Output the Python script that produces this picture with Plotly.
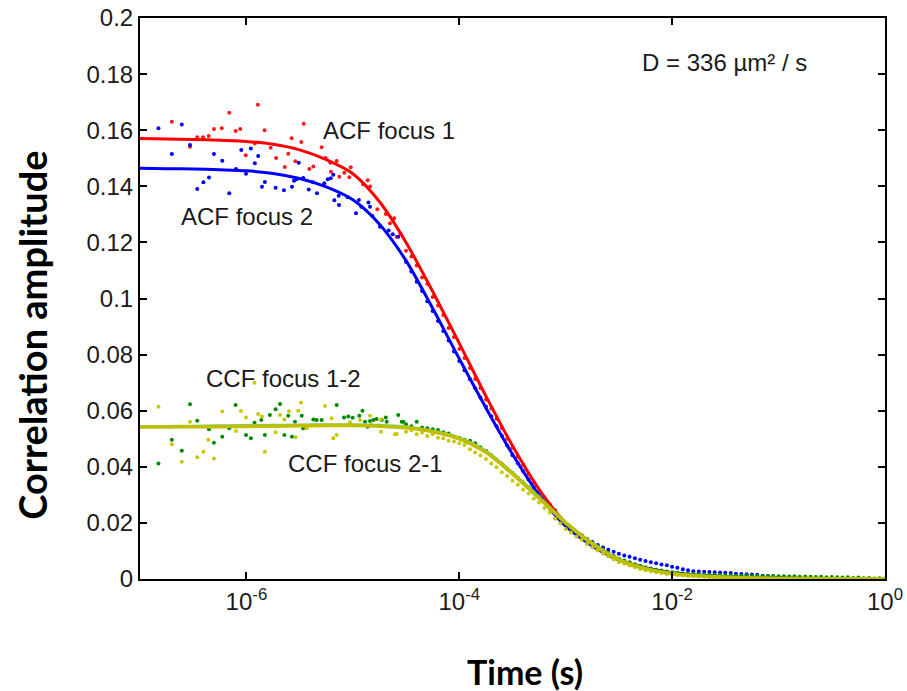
import plotly.graph_objects as go

# ---------------- data ----------------
# early (noisy) part of each correlation curve: lag time (s), amplitude
acf1_t_early = [1.99e-7, 2.95e-7, 3.45e-7, 3.91e-7, 4.42e-7, 4.95e-7, 5.86e-7, 6.90e-7, 7.92e-7, 8.75e-7,
                9.84e-7, 1.20e-6, 1.28e-6, 1.48e-6, 1.69e-6, 1.90e-6, 2.29e-6, 2.47e-6, 2.66e-6, 2.88e-6,
                3.28e-6, 3.45e-6, 3.90e-6, 4.25e-6, 5.09e-6, 5.56e-6, 6.14e-6, 6.23e-6, 7.05e-6, 7.46e-6,
                8.31e-6, 9.27e-6, 9.55e-6, 1.25e-5, 1.38e-5, 1.45e-5, 1.70e-5, 2.04e-5, 2.23e-5, 2.44e-5,
                2.58e-5, 2.81e-5]
acf1_g_early = [0.1630, 0.1541, 0.1575, 0.1575, 0.1579, 0.1604, 0.1607, 0.1662, 0.1597, 0.1604,
                0.1511, 0.1553, 0.1691, 0.1600, 0.1537, 0.1501, 0.1469, 0.1516, 0.1571, 0.1489,
                0.1558, 0.1623, 0.1462, 0.1471, 0.1539, 0.1501, 0.1484, 0.1452, 0.1490, 0.1434,
                0.1448, 0.1432, 0.1468, 0.1407, 0.1422, 0.1399, 0.1318, 0.1301, 0.1268, 0.1286,
                0.1220, 0.1230]

acf2_t_early = [1.49e-7, 1.99e-7, 2.47e-7, 2.95e-7, 3.45e-7, 3.94e-7, 4.45e-7, 4.95e-7, 5.93e-7, 6.90e-7,
                7.98e-7, 8.95e-7, 9.91e-7, 1.10e-6, 1.20e-6, 1.29e-6, 1.40e-6, 1.49e-6, 1.88e-6, 2.25e-6,
                2.68e-6, 2.80e-6, 2.97e-6, 3.10e-6, 3.42e-6, 3.85e-6, 4.22e-6, 4.60e-6, 5.39e-6, 5.81e-6,
                6.19e-6, 6.55e-6, 6.70e-6, 7.36e-6, 7.41e-6, 8.95e-6, 1.07e-5, 1.14e-5, 1.20e-5, 1.40e-5,
                1.45e-5, 1.52e-5, 1.80e-5, 2.17e-5, 2.37e-5, 2.67e-5]
acf2_g_early = [0.1607, 0.1515, 0.1620, 0.1547, 0.1390, 0.1414, 0.1431, 0.1515, 0.1491, 0.1375,
                0.1462, 0.1529, 0.1445, 0.1535, 0.1482, 0.1508, 0.1398, 0.1415, 0.1395, 0.1386,
                0.1398, 0.1420, 0.1425, 0.1484, 0.1430, 0.1389, 0.1414, 0.1375, 0.1411, 0.1425,
                0.1429, 0.1441, 0.1350, 0.1366, 0.1333, 0.1361, 0.1304, 0.1351, 0.1327, 0.1342,
                0.1327, 0.1295, 0.1256, 0.1242, 0.1229, 0.1220]

ccf12_t_early = [1.49e-7, 1.99e-7, 2.47e-7, 2.95e-7, 3.45e-7, 4.45e-7, 4.95e-7, 5.93e-7, 6.90e-7, 7.92e-7,
                 9.91e-7, 1.10e-6, 1.19e-6, 1.38e-6, 1.49e-6, 1.66e-6, 1.88e-6, 2.07e-6, 2.27e-6, 2.47e-6,
                 2.68e-6, 2.86e-6, 3.31e-6, 3.42e-6, 4.25e-6, 4.57e-6, 5.09e-6, 7.05e-6, 8.26e-6, 9.06e-6,
                 9.95e-6, 1.15e-5, 1.23e-5, 1.30e-5, 1.37e-5, 1.45e-5, 1.56e-5, 1.67e-5, 1.87e-5, 2.04e-5,
                 2.08e-5, 2.67e-5, 2.88e-5, 2.98e-5]
ccf12_g_early = [0.0412, 0.0496, 0.0457, 0.0623, 0.0564, 0.0534, 0.0486, 0.0507, 0.0537, 0.0620,
                 0.0513, 0.0502, 0.0557, 0.0567, 0.0513, 0.0585, 0.0605, 0.0624, 0.0513, 0.0582,
                 0.0507, 0.0561, 0.0582, 0.0537, 0.0569, 0.0567, 0.0567, 0.0620, 0.0576, 0.0579,
                 0.0575, 0.0582, 0.0600, 0.0561, 0.0543, 0.0563, 0.0567, 0.0570, 0.0567, 0.0576,
                 0.0561, 0.0585, 0.0561, 0.0561]

ccf21_t_early = [1.49e-7, 1.99e-7, 2.47e-7, 2.95e-7, 3.45e-7, 3.94e-7, 4.39e-7, 4.95e-7, 5.93e-7, 7.98e-7,
                 8.89e-7, 9.91e-7, 1.19e-6, 1.29e-6, 1.40e-6, 1.49e-6, 1.88e-6, 2.07e-6, 2.27e-6, 2.51e-6,
                 2.90e-6, 3.07e-6, 3.26e-6, 3.68e-6, 5.47e-6, 6.32e-6, 6.55e-6, 7.05e-6, 9.40e-6, 1.17e-5,
                 1.45e-5, 1.50e-5, 1.83e-5, 1.84e-5, 2.49e-5, 2.58e-5, 2.98e-5]
ccf21_g_early = [0.0614, 0.0480, 0.0418, 0.0561, 0.0434, 0.0454, 0.0496, 0.0430, 0.0597, 0.0528,
                 0.0599, 0.0576, 0.0700, 0.0588, 0.0579, 0.0454, 0.0523, 0.0585, 0.0569, 0.0598,
                 0.0505, 0.0600, 0.0629, 0.0537, 0.0617, 0.0573, 0.0502, 0.0513, 0.0559, 0.0567,
                 0.0582, 0.0549, 0.0569, 0.0525, 0.0516, 0.0517, 0.0545]

# late (dense) part: common lag times for all four curves
lag_late = [3.16e-5, 3.55e-5, 3.98e-5, 4.47e-5, 5.01e-5, 5.62e-5, 6.31e-5, 7.08e-5, 7.94e-5, 8.91e-5,
            1.00e-4, 1.12e-4, 1.26e-4, 1.41e-4, 1.58e-4, 1.78e-4, 2.00e-4, 2.24e-4, 2.51e-4, 2.82e-4,
            3.16e-4, 3.55e-4, 3.98e-4, 4.47e-4, 5.01e-4, 5.62e-4, 6.31e-4, 7.08e-4, 7.94e-4, 8.91e-4,
            1.00e-3, 1.12e-3, 1.26e-3, 1.41e-3, 1.58e-3, 1.78e-3, 2.00e-3, 2.24e-3, 2.51e-3, 2.82e-3,
            3.16e-3, 3.55e-3, 3.98e-3, 4.47e-3, 5.01e-3, 5.62e-3, 6.31e-3, 7.08e-3, 7.94e-3, 8.91e-3,
            1.00e-2, 1.12e-2, 1.26e-2, 1.41e-2, 1.58e-2, 1.78e-2, 2.00e-2, 2.24e-2, 2.51e-2, 2.82e-2,
            3.16e-2, 3.55e-2, 3.98e-2, 4.47e-2, 5.01e-2, 5.62e-2, 6.31e-2, 7.08e-2, 7.94e-2, 8.91e-2,
            1.00e-1, 1.12e-1, 1.26e-1, 1.41e-1, 1.58e-1, 1.78e-1, 2.00e-1, 2.24e-1, 2.51e-1, 2.82e-1,
            3.16e-1, 3.55e-1, 3.98e-1, 4.47e-1, 5.01e-1, 5.62e-1, 6.31e-1, 7.08e-1, 7.94e-1, 8.91e-1,
            1.0]
acf1_g_late = [0.1170, 0.1150, 0.1118, 0.1075, 0.1052, 0.1005, 0.0975, 0.0941, 0.0895, 0.0862,
               0.0820, 0.0788, 0.0752, 0.0713, 0.0681, 0.0640, 0.0608, 0.0571, 0.0538, 0.0500,
               0.0468, 0.0436, 0.0407, 0.0374, 0.0345, 0.0313, 0.0291, 0.0266, 0.0245, 0.0219,
               0.0197, 0.0183, 0.0168, 0.0155, 0.0140, 0.0126, 0.0114, 0.0103, 0.0091, 0.0080,
               0.0069, 0.0063, 0.0057, 0.0050, 0.0045, 0.0039, 0.0035, 0.0031, 0.0028, 0.0024,
               0.0021, 0.0018, 0.0017, 0.0015, 0.0014, 0.0012, 0.0011, 0.0009, 0.0008, 0.0007,
               0.0006, 0.0006, 0.0005, 0.0004, 0.0004, 0.0003, 0.0003, 0.0002, 0.0002, 0.0001,
               0.0001, 0.0001, 0.0000, 0.0002, -0.0001, 0.0001, 0.0000, -0.0002, 0.0001, 0.0000,
               -0.0001, 0.0000, -0.0002, 0.0001, 0.0000, -0.0001, 0.0001, -0.0002, 0.0000, 0.0001,
               0.0000]
acf2_g_late = [0.1130, 0.1096, 0.1060, 0.1027, 0.0990, 0.0955, 0.0920, 0.0884, 0.0850, 0.0811,
               0.0777, 0.0744, 0.0712, 0.0680, 0.0647, 0.0615, 0.0580, 0.0545, 0.0511, 0.0476,
               0.0441, 0.0413, 0.0384, 0.0355, 0.0327, 0.0299, 0.0276, 0.0256, 0.0235, 0.0213,
               0.0194, 0.0180, 0.0167, 0.0155, 0.0143, 0.0132, 0.0121, 0.0112, 0.0104, 0.0097,
               0.0090, 0.0084, 0.0079, 0.0074, 0.0069, 0.0064, 0.0060, 0.0056, 0.0052, 0.0049,
               0.0044, 0.0040, 0.0035, 0.0031, 0.0028, 0.0027, 0.0026, 0.0025, 0.0024, 0.0023,
               0.0022, 0.0021, 0.0019, 0.0018, 0.0017, 0.0016, 0.0015, 0.0012, 0.0011, 0.0009,
               0.0008, 0.0007, 0.0006, 0.0005, 0.0005, 0.0004, 0.0003, 0.0003, 0.0002, 0.0002,
               0.0001, 0.0001, 0.0000, 0.0001, 0.0000, -0.0001, 0.0000, 0.0001, 0.0000, -0.0001,
               0.0000]
ccf12_g_late = [0.0552, 0.0545, 0.0561, 0.0540, 0.0537, 0.0534, 0.0531, 0.0523, 0.0519, 0.0507,
                0.0504, 0.0496, 0.0493, 0.0484, 0.0470, 0.0457, 0.0441, 0.0425, 0.0410, 0.0393,
                0.0378, 0.0360, 0.0344, 0.0327, 0.0311, 0.0294, 0.0275, 0.0255, 0.0236, 0.0216,
                0.0197, 0.0182, 0.0168, 0.0155, 0.0141, 0.0128, 0.0116, 0.0105, 0.0094, 0.0082,
                0.0072, 0.0066, 0.0060, 0.0053, 0.0047, 0.0041, 0.0037, 0.0033, 0.0030, 0.0027,
                0.0024, 0.0022, 0.0020, 0.0019, 0.0018, 0.0017, 0.0016, 0.0015, 0.0014, 0.0014,
                0.0013, 0.0013, 0.0012, 0.0012, 0.0013, 0.0011, 0.0012, 0.0011, 0.0010, 0.0011,
                0.0010, 0.0010, 0.0009, 0.0010, 0.0008, 0.0009, 0.0008, 0.0007, 0.0008, 0.0006,
                0.0007, 0.0006, 0.0005, 0.0006, 0.0004, 0.0005, 0.0003, 0.0004, 0.0002, 0.0003,
                0.0002]
ccf21_g_late = [0.0525, 0.0530, 0.0516, 0.0522, 0.0510, 0.0516, 0.0504, 0.0502, 0.0493, 0.0490,
                0.0484, 0.0478, 0.0463, 0.0451, 0.0440, 0.0428, 0.0412, 0.0398, 0.0381, 0.0367,
                0.0350, 0.0336, 0.0318, 0.0305, 0.0287, 0.0273, 0.0253, 0.0236, 0.0215, 0.0198,
                0.0178, 0.0166, 0.0151, 0.0140, 0.0125, 0.0113, 0.0102, 0.0091, 0.0081, 0.0070,
                0.0060, 0.0054, 0.0048, 0.0042, 0.0036, 0.0031, 0.0028, 0.0024, 0.0021, 0.0018,
                0.0015, 0.0014, 0.0013, 0.0011, 0.0010, 0.0009, 0.0008, 0.0007, 0.0006, 0.0005,
                0.0004, 0.0004, 0.0003, 0.0003, 0.0002, 0.0002, 0.0001, 0.0002, 0.0001, 0.0001,
                0.0000, 0.0001, 0.0000, 0.0001, 0.0000, -0.0001, 0.0000, 0.0001, 0.0000, 0.0000,
                -0.0001, 0.0000, 0.0001, 0.0000, 0.0000, -0.0001, 0.0000, 0.0000, 0.0001, 0.0000,
                0.0000]

# fitted model curves (read every quarter decade)
fit_t = [1.00e-7, 1.78e-7, 3.16e-7, 5.62e-7, 1.00e-6, 1.78e-6, 3.16e-6, 5.62e-6, 1.00e-5, 1.78e-5,
         3.16e-5, 5.62e-5, 1.00e-4, 1.78e-4, 3.16e-4, 5.62e-4, 1.00e-3, 1.78e-3, 3.16e-3, 5.62e-3,
         1.00e-2, 1.78e-2, 3.16e-2, 5.62e-2, 1.00e-1, 3.16e-1, 1.0]
acf1_fit = [0.1570, 0.1569, 0.1567, 0.1564, 0.1560, 0.1550, 0.1530, 0.1495, 0.1445, 0.1345,
            0.1200, 0.1025, 0.0840, 0.0652, 0.0475, 0.0320, 0.0200, 0.0125, 0.0070, 0.0040,
            0.0022, 0.0013, 0.0008, 0.0005, 0.0003, 0.0001, 0.0]
acf2_fit = [0.1464, 0.1463, 0.1462, 0.1459, 0.1455, 0.1446, 0.1428, 0.1398, 0.1352, 0.1265,
            0.1135, 0.0965, 0.0785, 0.0610, 0.0445, 0.0300, 0.0188, 0.0118, 0.0067, 0.0038,
            0.0021, 0.0013, 0.0008, 0.0005, 0.0003, 0.0001, 0.0]
ccf12_fit = [0.0543, 0.0544, 0.0545, 0.0546, 0.0547, 0.0548, 0.0549, 0.0550, 0.0550, 0.0548,
             0.0542, 0.0528, 0.0504, 0.0456, 0.0379, 0.0292, 0.0203, 0.0128, 0.0070, 0.0038,
             0.0020, 0.0012, 0.0007, 0.0004, 0.0002, 0.0001, 0.0]
ccf21_fit = [0.0542, 0.0542, 0.0543, 0.0543, 0.0544, 0.0545, 0.0546, 0.0547, 0.0547, 0.0545,
             0.0539, 0.0525, 0.0500, 0.0452, 0.0375, 0.0288, 0.0200, 0.0125, 0.0068, 0.0036,
             0.0019, 0.0011, 0.0006, 0.0004, 0.0002, 0.0001, 0.0]

x_tick_vals = [1e-6, 1e-4, 1e-2, 1.0]
x_tick_text = ["10<sup>-6</sup>", "10<sup>-4</sup>", "10<sup>-2</sup>", "10<sup>0</sup>"]
y_tick_vals = [0, 0.02, 0.04, 0.06, 0.08, 0.1, 0.12, 0.14, 0.16, 0.18, 0.2]
y_tick_text = ["0", "0.02", "0.04", "0.06", "0.08", "0.1", "0.12", "0.14", "0.16", "0.18", "0.2"]

# ---------------- figure ----------------
RED = "#ff1a1a"
BLUE = "#0000ff"
GREEN = "#008a00"
YELLOW = "#c8c800"

fig = go.Figure()


def add_fit(t, g, color, width):
    fig.add_trace(go.Scatter(x=t, y=g, mode="lines",
                             line=dict(color=color, width=width, shape="spline", smoothing=0.8),
                             hoverinfo="skip", showlegend=False))


def add_pts(t, g, color, size=4):
    fig.add_trace(go.Scatter(x=t, y=g, mode="markers",
                             marker=dict(color=color, size=size, line=dict(width=0)),
                             showlegend=False))


add_pts(acf1_t_early + lag_late, acf1_g_early + acf1_g_late, RED)
add_pts(acf2_t_early + lag_late, acf2_g_early + acf2_g_late, BLUE)
add_fit(fit_t, acf1_fit, "#ff0000", 3)
add_fit(fit_t, acf2_fit, "#0000ff", 3)
add_pts(ccf12_t_early + lag_late, ccf12_g_early + ccf12_g_late, GREEN)
add_pts(ccf21_t_early + lag_late, ccf21_g_early + ccf21_g_late, YELLOW)
add_fit(fit_t, ccf12_fit, "#7fc86a", 3)
add_fit(fit_t, ccf21_fit, "#bfbf00", 3.5)

label_font = dict(family="Liberation Sans, Arial, sans-serif", size=24, color="#1a1a1a")
annos = [
    ("ACF focus 1", 0.334, 0.799),
    ("ACF focus 2", 0.143, 0.646),
    ("CCF focus 1-2", 0.192, 0.357),
    ("CCF focus 2-1", 0.303, 0.206),
    ("D = 336 µm² / s", 0.784, 0.920),
]
for txt, ax_, ay_ in annos:
    fig.add_annotation(text=txt, x=ax_, y=ay_, xref="paper", yref="paper", showarrow=False,
                       xanchor="center", yanchor="middle", font=label_font)

fig.add_annotation(text="<b>Correlation amplitude</b>", x=-0.146, y=0.434, xref="paper", yref="paper",
                   showarrow=False, textangle=-90, xanchor="center", yanchor="middle",
                   font=dict(family="Lato, sans-serif", size=38, color="black"))
fig.add_annotation(text="<b>Time (s)</b>", x=0.517, y=-0.164, xref="paper", yref="paper",
                   showarrow=False, xanchor="center", yanchor="middle",
                   font=dict(family="Lato, sans-serif", size=34, color="black"))

axis_common = dict(showline=True, linecolor="black", linewidth=2, mirror="ticks", ticks="inside",
                   ticklen=7, tickwidth=1.5, tickcolor="black", showgrid=False, zeroline=False,
                   automargin=False,
                   tickfont=dict(family="Liberation Sans, Arial, sans-serif", size=24, color="#1a1a1a"))
fig.update_xaxes(type="log", range=[-7, 0], tickvals=x_tick_vals, ticktext=x_tick_text, **axis_common)
fig.update_yaxes(range=[0, 0.2], tickvals=y_tick_vals, ticktext=y_tick_text, **axis_common)

fig.update_layout(width=907, height=691, margin=dict(l=140, r=22, t=18, b=112, autoexpand=False),
                  plot_bgcolor="white", paper_bgcolor="white", showlegend=False)

fig.write_html("out.html")
